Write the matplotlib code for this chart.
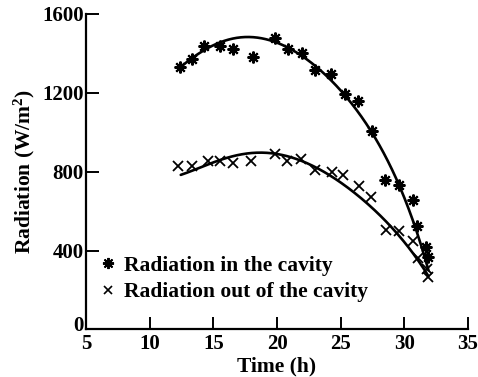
import matplotlib
matplotlib.use("Agg")
import numpy as np
import matplotlib.pyplot as plt
import matplotlib.transforms as mtransforms
from matplotlib.lines import Line2D

# measured points
time_in = [12.38, 13.35, 14.29, 15.55, 16.57, 18.09, 19.87, 20.87, 21.97, 23.01,
           24.22, 25.35, 26.37, 27.49, 28.49, 29.61, 30.66, 30.97, 31.71, 31.89]
rad_in = [1332, 1374, 1438, 1438, 1423, 1381, 1480, 1421, 1404, 1316,
          1295, 1193, 1159, 1008, 760, 731, 656, 524, 416, 366]

time_out = [12.25, 13.35, 14.56, 15.55, 16.57, 17.94, 19.87, 20.81, 21.87, 23.0,
            24.3, 25.16, 26.45, 27.40, 28.57, 29.61, 30.71, 31.1, 31.76, 31.89]
rad_out = [829, 828, 855, 852, 842, 855, 889, 855, 863, 808,
           797, 785, 729, 673, 504, 497, 447, 360, 305, 268]

# fitted curves as drawn
curve_in_t = [12.4, 14.2, 16.0, 17.9, 19.5, 21.3, 23.0, 25.35, 27.5, 28.23, 28.62,
              29.53, 30.84, 31.5, 31.9]
curve_in_r = [1329, 1416, 1463, 1482, 1471, 1413, 1328, 1193, 1008, 909, 858,
              723, 529, 419, 276]
curve_out_t = [12.44, 14.48, 16.57, 18.67, 20.5, 22.33, 23.9, 26.52, 27.31, 28.62,
               29.93, 30.98, 31.89]
curve_out_r = [783, 838, 876, 895, 886, 847, 788, 670, 630, 540,
               445, 369, 267]

x_ticks = [5, 10, 15, 20, 25, 30, 35]
y_ticks = [0, 400, 800, 1200, 1600]

plt.rcParams['font.family'] = ['Liberation Serif', 'DejaVu Serif']
plt.rcParams['font.weight'] = 'bold'
plt.rcParams['axes.labelweight'] = 'bold'
plt.rcParams['mathtext.fontset'] = 'custom'
plt.rcParams['mathtext.rm'] = 'Liberation Serif:bold'
plt.rcParams['mathtext.default'] = 'regular'
FS_TICK = 15
FS_LAB = 15.5
FS_LEG = 15.5


def smooth(t, r, deg):
    c = np.polyfit(t, r, deg)
    tt = np.linspace(min(t), max(t), 300)
    return tt, np.polyval(c, tt)


fig = plt.figure(figsize=(4.78, 3.77), dpi=100)
ax = fig.add_axes([0.180, 0.126, 0.799, 0.837])

for t, r in [(curve_in_t, curve_in_r), (curve_out_t, curve_out_r)]:
    tt, rr = smooth(t, r, 5)
    ax.plot(tt, rr, color='black', lw=1.9, solid_capstyle='round')

star = (8, 2, 0)
ax.plot(time_in, rad_in, ls='none', marker=star, ms=8.5, mew=1.5, color='black')
ax.plot(time_out, rad_out, ls='none', marker='x', ms=7, mew=1.3, color='black')

ax.set_xlim(5, 35)
ax.set_ylim(0, 1600)
ax.set_xticks(x_ticks)
ax.set_yticks(y_ticks)
ax.tick_params(direction='in', length=9, width=1.4, labelsize=FS_TICK)
ax.tick_params(axis='x', pad=3)
ax.tick_params(axis='y', pad=1.5)
for s in ['top', 'right']:
    ax.spines[s].set_visible(False)
for s in ['left', 'bottom']:
    ax.spines[s].set_linewidth(1.6)

# lift the "0" label slightly, as in the reference
zero_lbl = ax.yaxis.get_major_ticks()[0].label1
zero_lbl.set_transform(zero_lbl.get_transform() +
                       mtransforms.ScaledTranslation(0, 4 / 72, fig.dpi_scale_trans))

ax.set_xlabel('Time (h)', fontsize=FS_LAB, labelpad=2)
ax.set_ylabel('Radiation (W/m$^2$)', fontsize=FS_LAB, labelpad=4)

handles = [Line2D([], [], ls='none', marker=star, ms=8, mew=1.4, color='black'),
           Line2D([], [], ls='none', marker='x', ms=6, mew=1.2, color='black')]
ax.legend(handles, ['Radiation in the cavity', 'Radiation out of the cavity'],
          loc='lower left', bbox_to_anchor=(0.0, 0.045), frameon=False,
          fontsize=FS_LEG, handlelength=0.8, handletextpad=0.35, labelspacing=0.3,
          borderaxespad=0.2)

fig.savefig('out.png', dpi=100)
